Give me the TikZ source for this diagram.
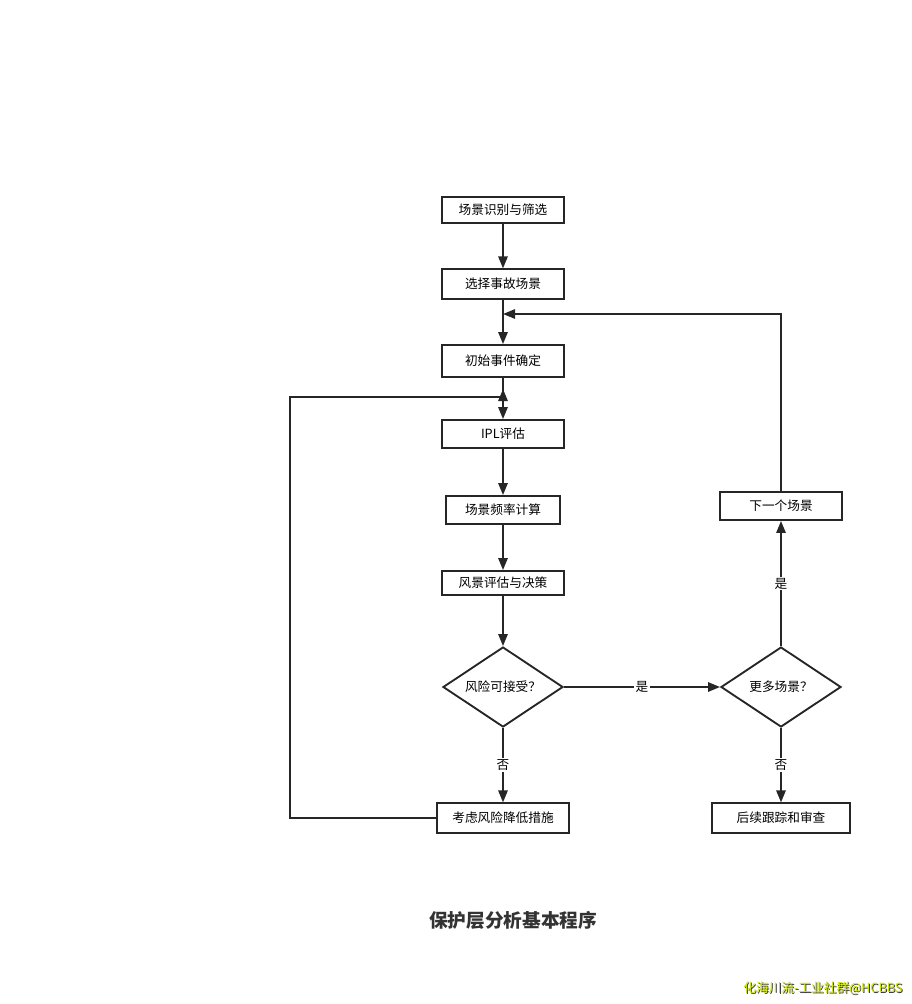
\documentclass[tikz,border=0pt]{standalone}
\usepackage{fontspec}
\setmainfont{Noto Sans CJK SC}
\usetikzlibrary{shapes.geometric,arrows.meta}
\begin{document}
\begin{tikzpicture}[x=0.75pt,y=-0.75pt,
  box/.style={draw=black!85,line width=1.4pt,minimum height=20pt,inner sep=0pt,font=\fontsize{9.5pt}{11pt}\selectfont},
  dia/.style={draw=black!85,line width=1.4pt,diamond,minimum width=90pt,minimum height=60pt,inner sep=0pt,font=\fontsize{9.5pt}{11pt}\selectfont},
  arr/.style={draw=black!85,line width=1.4pt,-{Triangle[length=9pt,width=7pt]}},
  lbl/.style={fill=white,inner sep=1pt,font=\fontsize{9.5pt}{11pt}\selectfont}]
\useasboundingbox (0,0) rectangle (912,1004);
\node[box,minimum width=91pt] (a) at (503,210) {场景识别与筛选};
\node[box,minimum width=91pt,minimum height=22pt] (b) at (503,284) {选择事故场景};
\node[box,minimum width=91pt,minimum height=24pt] (c) at (503,361) {初始事件确定};
\node[box,minimum width=91pt,minimum height=21pt] (d) at (503,434) {IPL评估};
\node[box,minimum width=86pt,minimum height=21pt] (e) at (503,510) {场景频率计算};
\node[box,minimum width=91pt,minimum height=18pt] (f) at (503,583) {风景评估与决策};
\node[dia,aspect=1.5] (g) at (503,687) {风险可接受？};
\node[dia,aspect=1.5] (h) at (781,687) {更多场景？};
\node[box,minimum width=91pt,minimum height=21pt] (i) at (781,506) {下一个场景};
\node[box,minimum width=99pt,minimum height=22pt] (j) at (503,818) {考虑风险降低措施};
\node[box,minimum width=103pt,minimum height=22pt] (k) at (781,818) {后续跟踪和审查};
\draw[arr] (a) -- (b);
\draw[arr] (b) -- (c);
\draw[arr] (c) -- (d);
\draw[arr] (d) -- (e);
\draw[arr] (e) -- (f);
\draw[arr] (f) -- (g);
\draw[arr] (g) -- node[lbl]{是} (h);
\draw[arr] (g) -- node[lbl]{否} (j);
\draw[arr] (h) -- node[lbl]{否} (k);
\draw[arr] (h) -- node[lbl]{是} (i);
\coordinate (p) at (503,314);
\coordinate (q) at (503,397);
\draw[arr] (i.north) |- (p);
\draw[arr] (j.west) -| (290,397) -- (q) -- ++(0,-8);
\node[font=\bfseries\fontsize{14pt}{16pt}\selectfont,text=black!80] (t) at (513,920) {保护层分析基本程序};
\node[font=\fontsize{9.5pt}{11pt}\selectfont,text=black!80] (w0) at (824,989) {化海川流-工业社群@HCBBS};
\node[font=\fontsize{9.5pt}{11pt}\selectfont,text={rgb,255:red,205;green,230;blue,0}] (w) at (823,988) {化海川流-工业社群@HCBBS};
\end{tikzpicture}
\end{document}
